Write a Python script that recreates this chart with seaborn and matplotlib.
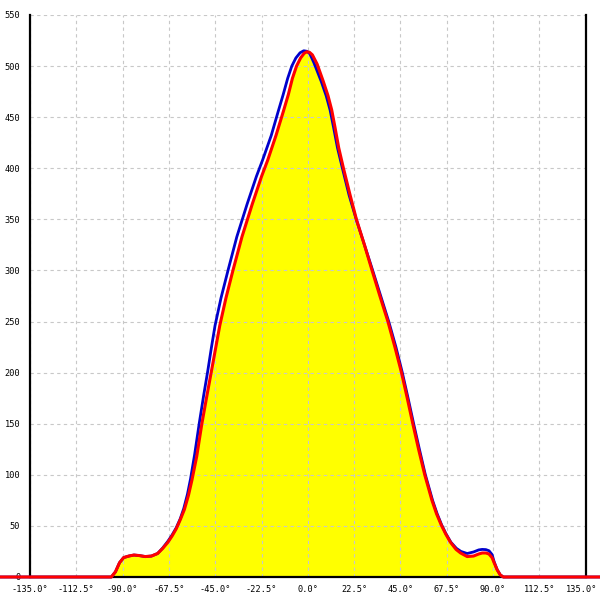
import matplotlib
matplotlib.use("Agg")
import matplotlib.pyplot as plt
import matplotlib.transforms as mtransforms
import seaborn as sns

# red curve (filled) - angle in degrees, value
red_x = [-150, -95.5, -93.5, -91.5, -89.5, -87, -84.5, -82, -79, -76, -73, -70.5, -68,
         -66, -64, -62, -60, -58, -56.3, -54, -51.5, -49, -46.8, -44.8, -42.8, -39.8, -36.4,
         -32, -27, -22.5, -19.5, -15.5, -12, -9.5, -7.5, -5.5, -3.5, -1.8, -0.5, 0.8,
         2.2, 4.5, 7.5, 9.8, 11.6, 13.2, 15, 17.3, 20.5, 23.6, 27.5, 31.2, 35, 38.9, 42.3, 45.5,
         48.3, 51, 53.8, 56.8, 60.3, 62.5, 64.8, 67, 69.3, 72, 74.2, 77.4, 80.5, 83,
         84.7, 86.5, 88, 89.5, 90.5, 92, 93.5, 95, 143]
red_y = [0, 0, 5, 14, 19, 20.5, 21.5, 21, 20, 20.5, 23, 28, 34,
         40, 47, 56, 66, 80, 95, 118, 150, 178, 202, 224, 246, 273, 300,
         333, 365, 392, 408, 432, 455, 472, 488, 500, 508, 512.5, 514, 513.5,
         511, 502, 485, 471, 457, 440, 420, 400, 374, 350, 325, 300, 275, 250, 225, 200,
         175, 150, 125, 100, 75, 62, 51, 42, 34, 27, 23.5, 20, 20.5, 22.5,
         23.5, 23.5, 22.5, 19, 14, 7, 2, 0, 0]

# blue curve
blue_x = [-150, -95.5, -93.5, -91.5, -89.5, -87, -84.5, -82, -79, -76, -73, -70.5, -68,
          -66, -64, -62, -60.3, -58.5, -57, -55, -52.8, -50.6, -48.6, -46.9, -45.1, -42.2, -38.8,
          -34.5, -29.5, -25, -22, -17.8, -14.5, -12, -9.8, -7.8, -5.8, -3.8, -2, -0.5,
          1, 3, 6.5, 8.9, 10.8, 12.5, 14.4, 16.8, 20, 23.5, 27.5, 31.5, 35.4, 39.3, 42.8, 45.9,
          48.7, 51.4, 54.2, 57.1, 60.6, 62.8, 65, 67.2, 69.5, 72.2, 74.4, 77.4, 80.5, 83,
          84.7, 86.5, 88, 89.5, 90.5, 92, 93.5, 95, 143]
blue_y = [0, 0, 5, 14, 19, 20.5, 21.5, 21, 20, 20.5, 23, 28.5, 35,
          41, 48, 57, 67, 81, 96, 120, 150, 178, 202, 224, 246, 273, 300,
          333, 365, 392, 408, 432, 455, 472, 488, 500, 508, 513, 515, 514.5,
          512, 503, 485, 471, 457, 440, 420, 400, 374, 350, 325, 300, 275, 250, 225, 200,
          175, 150, 125, 100, 75, 62, 51, 42, 34, 28, 25, 23, 24.5, 26.5,
          27, 26.8, 25.7, 22, 15, 7, 2, 0, 0]

x_ticks = [-135, -112.5, -90, -67.5, -45, -22.5, 0, 22.5, 45, 67.5, 90, 112.5, 135]
y_ticks = [0, 50, 100, 150, 200, 250, 300, 350, 400, 450, 500, 550]

sns.set_style("white")
plt.rcParams['font.family'] = ['DejaVu Sans Mono']

fig = plt.figure(figsize=(6, 6), dpi=100)
ax = fig.add_axes([30 / 600, 23 / 600, 555.7 / 600, 562 / 600])

ax.fill_between(red_x, red_y, color='#ffff00', lw=0, zorder=1)
sns.lineplot(x=blue_x, y=blue_y, sort=False, estimator=None, color='#0000cc', lw=2, ax=ax)
sns.lineplot(x=red_x, y=red_y, sort=False, estimator=None, color='#ff0000', lw=2.2, ax=ax)
for line in ax.lines:
    line.set_clip_on(False)
    line.set_zorder(3)

ax.set_xlim(-135, 135)
ax.set_ylim(0, 550)
ax.set_xticks(x_ticks)
ax.set_xticklabels([f"{v:.1f}°" for v in x_ticks])
ax.set_yticks(y_ticks)
ax.set_yticklabels([str(v) for v in y_ticks])

ax.set_axisbelow(False)
ax.grid(True, color='#c8c8c8', linestyle=(0, (3, 3)), lw=0.8)

ax.spines['top'].set_visible(False)
for s in ['left', 'right', 'bottom']:
    ax.spines[s].set_color('black')
    ax.spines[s].set_linewidth(1.6)
    ax.spines[s].set_zorder(2.8)
ax.tick_params(axis='both', direction='inout', length=8, width=1.4, color='black',
               labelsize=6.2, labelcolor='black')
ax.tick_params(axis='x', pad=2)
ax.tick_params(axis='y', pad=3)
ax.set_xlabel('')
ax.set_ylabel('')

# keep the last x label inside the figure
last = ax.get_xticklabels()[-1]
last.set_transform(last.get_transform() + mtransforms.ScaledTranslation(-4 / 100, 0, fig.dpi_scale_trans))

fig.savefig('out.png', dpi=100)
plt.close(fig)
